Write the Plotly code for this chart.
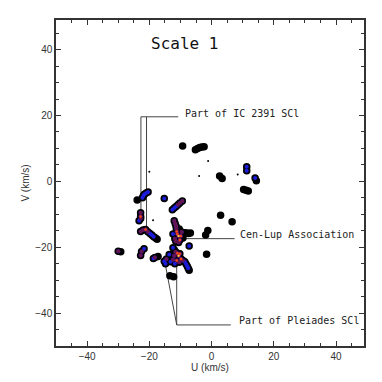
import plotly.graph_objects as go

# clump peaks: U, V (km/s) and contour level reached (1 = outer)
clump_u = [
    -9.3, -5.2, -4.5, -3.8, -3.1, -2.4, 2.6, 3.4, 11.3, 11.3, 14.0, 14.4, 10.3, 11.1, 11.8,
    2.9, 6.6, -1.9, -1.2, -1.6, -7.2, -15.2,
    -12.6, -12.0, -11.4, -10.8, -10.2, -9.4,
    -23.9, -22.2, -21.9, -21.6, -21.0, -20.4,
    -22.8, -22.8, -22.8, -23.3,
    -22.8, -22.0, -21.2, -20.5, -19.8, -19.2, -18.6, -18.0, -17.5,
    -30.0, -29.2,
    -22.5, -22.8, -21.7,
    -18.7, -18.2, -17.2,
    -15.2, -14.5, -14.8, -13.6,
    -13.4, -12.2,
    -12.0, -11.7, -11.4, -11.3, -10.4, -11.2, -11.0, -10.6, -9.9, -10.2, -9.6,
    -11.8, -11.5, -10.6, -12.4, -9.2, -8.6, -8.0, -7.4, -6.8,
    -12.4, -12.0, -11.6, -11.0, -10.2, -10.6, -12.0, -11.2, -10.4, -9.8, -9.2,
    -12.4, -11.8, -13.2, -8.6, -8.2, -7.8, -7.5, -7.2,
]
clump_v = [
    10.7, 9.6, 10.0, 10.3, 10.4, 10.5, 1.6, 0.9, 3.2, 4.4, 1.0, 0.2, -2.5, -2.7, -2.9,
    -10.3, -12.3, -16.3, -14.9, -22.1, -19.6, -5.2,
    -8.6, -8.1, -7.6, -7.1, -6.6, -6.0,
    -5.7, -5.0, -4.4, -3.9, -3.5, -3.2,
    -9.5, -10.7, -11.3, -12.0,
    -15.2, -14.8, -14.6, -15.3, -15.8, -16.3, -16.8, -17.2, -17.6,
    -21.2, -21.4,
    -21.3, -22.5, -20.5,
    -23.4, -23.1, -22.8,
    -24.3, -23.6, -25.0, -22.2,
    -28.7, -29.0,
    -12.0, -12.8, -13.6, -14.4, -14.5, -15.2, -16.0, -16.6, -16.6, -17.8, -15.4,
    -17.4, -18.2, -18.6, -16.0, -17.2, -15.6, -15.7, -15.8, -15.7,
    -20.2, -20.8, -21.4, -21.8, -22.0, -22.6, -22.6, -24.0, -24.6, -23.6, -24.0,
    -23.8, -25.0, -24.4, -24.4, -25.1, -25.8, -26.4, -27.0,
]
clump_level = [
    1, 1, 1, 1, 1, 1, 1, 1, 2, 2, 2, 1, 1, 1, 1,
    1, 1, 1, 1, 1, 2, 2,
    2, 2, 2, 3, 3, 3,
    1, 2, 2, 2, 2, 2,
    3, 4, 3, 2,
    3, 3, 4, 3, 2, 2, 2, 1, 1,
    3, 1,
    3, 3, 2,
    2, 3, 1,
    2, 3, 2, 2,
    1, 1,
    3, 3, 3, 3, 1, 4, 4, 5, 4, 4, 3,
    3, 3, 3, 2, 1, 1, 1, 1, 1,
    2, 1, 3, 4, 4, 5, 3, 4, 3, 4, 3,
    3, 2, 2, 2, 2, 2, 2, 1,
]

# isolated single-pixel detections
dot_u = [-1.1, -4.0, 8.4, -20.0, -18.8]
dot_v = [6.2, 1.6, 2.1, 2.9, -11.8]

# callout paths (U, V)
ic_u = [-22.7, -22.7, -10.7, None, -20.9, -20.9]
ic_v = [-9.0, 19.6, 19.6, None, -14.0, 19.6]
cenlup_u = [-10.2, 7.4]
cenlup_v = [-17.4, -17.4]
pleiades_u = [-11.2, -11.2, 6.2, None, -14.8, -11.2]
pleiades_v = [-23.5, -43.6, -43.6, None, -25.5, -43.6]

LEVELS = [
    (1, "#000000", 7.5),
    (2, "#1c1cdc", 4),
    (3, "#661450", 4),
    (4, "#ff4a10", 2.5),
    (5, "#e0e060", 2),
]

fig = go.Figure()

for path_u, path_v in [(ic_u, ic_v), (cenlup_u, cenlup_v), (pleiades_u, pleiades_v)]:
    fig.add_trace(go.Scatter(
        x=path_u, y=path_v, mode="lines",
        line=dict(color="#444444", width=1), hoverinfo="skip",
    ))

fig.add_trace(go.Scatter(
    x=dot_u, y=dot_v, mode="markers",
    marker=dict(color="#000000", size=2, line=dict(width=0)),
))

for lvl, col, size in LEVELS:
    pts = [(u, v) for u, v, l in zip(clump_u, clump_v, clump_level) if l >= lvl]
    fig.add_trace(go.Scatter(
        x=[p[0] for p in pts], y=[p[1] for p in pts], mode="markers",
        marker=dict(color=col, size=size, line=dict(width=0)),
    ))

label_font = dict(family="DejaVu Sans Mono", size=10, color="#222222")
fig.add_annotation(x=-9.2, y=20.5, text="Part of IC 2391 SCl", showarrow=False,
                   xanchor="left", yanchor="middle", font=label_font)
fig.add_annotation(x=8.5, y=-16.2, text="Cen-Lup Association", showarrow=False,
                   xanchor="left", yanchor="middle", font=label_font)
fig.add_annotation(x=8.2, y=-42.4, text="Part of Pleiades SCl", showarrow=False,
                   xanchor="left", yanchor="middle", font=label_font)
fig.add_annotation(x=-8.6, y=42, text="Scale 1", showarrow=False,
                   xanchor="center", yanchor="middle",
                   font=dict(family="DejaVu Sans Mono", size=16, color="#111111"))

axis_common = dict(
    showgrid=False, zeroline=False, showline=True, linecolor="#333333", linewidth=1.5,
    mirror="allticks", ticks="inside", ticklen=5, tickcolor="#333333", tickwidth=1,
    dtick=20, tickfont=dict(family="Liberation Sans", size=10, color="#333333"),
    minor=dict(dtick=5, ticks="inside", ticklen=3, tickcolor="#333333", tickwidth=1),
)

# page body adds an 8px offset, so margins are trimmed to land the frame in place
fig.update_layout(
    width=382, height=382,
    margin=dict(l=48, r=26, t=10, b=44),
    paper_bgcolor="white", plot_bgcolor="white",
    showlegend=False,
    xaxis=dict(range=[-50, 49], title=dict(text="U (km/s)", standoff=2,
               font=dict(family="Liberation Sans", size=10, color="#333333")), **axis_common),
    yaxis=dict(range=[-50, 49], title=dict(text="V (km/s)", standoff=4,
               font=dict(family="Liberation Sans", size=10, color="#333333")), **axis_common),
)

fig.write_html("out.html")
